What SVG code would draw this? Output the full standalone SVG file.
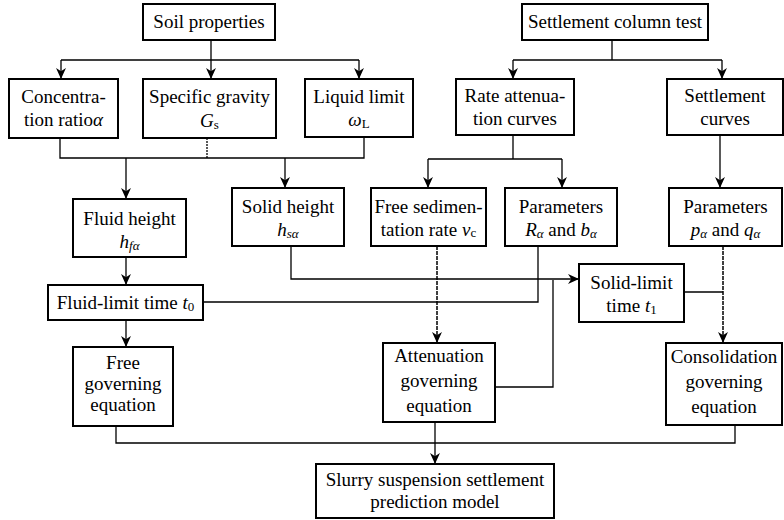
<svg xmlns="http://www.w3.org/2000/svg" width="784" height="520" viewBox="0 0 784 520">
<defs>
<marker id="arr" viewBox="0 0 10 10" refX="10" refY="5" markerWidth="11" markerHeight="11" markerUnits="userSpaceOnUse" orient="auto">
<path d="M0,0.5 L10,5 L0,9.5 L3,5 Z" fill="#000"/>
</marker>
<style>
.box{fill:#fff;stroke:#000;stroke-width:2}
.t{font-size:19px;fill:#000;text-anchor:middle}
.i{font-style:italic}
.sub{font-size:13px}
.c{fill:none;stroke:#000;stroke-width:1.3}
.d{stroke-dasharray:2 1}
.d2{stroke-dasharray:4 1;stroke-width:1.5}
.a{marker-end:url(#arr)}
</style>
</defs>
<rect width="784" height="520" fill="#fff"/>

<g id="connectors">
<path class="c" d="M211,40 V60 M61,60 H359"/>
<path class="c a" d="M61,60 V79"/>
<path class="c a" d="M211,60 V79"/>
<path class="c a" d="M359,60 V79"/>
<path class="c" d="M612,40 V60 M513,60 H722"/>
<path class="c a" d="M513,60 V79"/>
<path class="c a" d="M722,60 V79"/>
<path class="c" d="M60,138 V158 H364 V137"/>
<path class="c d" d="M207,138 V158"/>
<path class="c a" d="M126,158 V199"/>
<path class="c a" d="M285,158 V188"/>
<path class="c" d="M513,135 V159 M428,159 H562"/>
<path class="c a" d="M428,159 V188"/>
<path class="c a" d="M562,159 V188"/>
<path class="c a" d="M720,135 V188"/>
<path class="c a" d="M126,257 V285"/>
<path class="c a" d="M126,320 V347"/>
<path class="c a" d="M291,246 V279 H579"/>
<path class="c" d="M203,302 H538 V246"/>
<path class="c d2 a" d="M437,246 V343"/>
<path class="c" d="M553,280 V387 H495"/>
<path class="c" d="M684,292 H723"/>
<path class="c d2 a" d="M723,246 V343"/>
<path class="c" d="M116,426 V443 H735 V425"/>
<path class="c a" d="M435,422 V464"/>
</g>

<g font-family="'Liberation Serif', 'Times New Roman', 'DejaVu Serif', serif">
<g id="soil">
<rect class="box" x="143" y="4" width="132" height="36"/>
<text class="t" x="209" y="28">Soil properties</text>
</g>
<g id="column">
<rect class="box" x="522" y="4" width="186" height="36"/>
<text class="t" x="615" y="28">Settlement column test</text>
</g>
<g id="conc">
<rect class="box" x="9" y="79" width="109" height="59"/>
<text class="t" x="63.5" y="103">Concentra-</text>
<text class="t" x="63.5" y="126">tion ratio<tspan class="i">α</tspan></text>
</g>
<g id="gravity">
<rect class="box" x="143" y="79" width="133" height="59"/>
<text class="t" x="209.5" y="103">Specific gravity</text>
<text class="t" x="209.5" y="127"><tspan class="i">G</tspan><tspan class="sub" dy="2">s</tspan></text>
</g>
<g id="liquid">
<rect class="box" x="305" y="79" width="108" height="58"/>
<text class="t" x="359" y="103">Liquid limit</text>
<text class="t" x="359" y="126"><tspan class="i">ω</tspan><tspan class="sub" dy="2">L</tspan></text>
</g>
<g id="rate">
<rect class="box" x="456" y="79" width="118" height="56"/>
<text class="t" x="515" y="102">Rate attenua-</text>
<text class="t" x="515" y="125">tion curves</text>
</g>
<g id="scurves">
<rect class="box" x="667" y="79" width="116" height="56"/>
<text class="t" x="725" y="102">Settlement</text>
<text class="t" x="725" y="125">curves</text>
</g>
<g id="fluidh">
<rect class="box" x="73" y="199" width="113" height="58"/>
<text class="t" x="129.5" y="225">Fluid height</text>
<text class="t" x="129.5" y="248"><tspan class="i">h</tspan><tspan class="sub i" dy="2">fα</tspan></text>
</g>
<g id="solidh">
<rect class="box" x="232" y="188" width="112" height="58"/>
<text class="t" x="288" y="213">Solid height</text>
<text class="t" x="288" y="236"><tspan class="i">h</tspan><tspan class="sub i" dy="2">sα</tspan></text>
</g>
<g id="freesed">
<rect class="box" x="371" y="188" width="115" height="58"/>
<text class="t" x="428.5" y="213">Free sedimen-</text>
<text class="t" x="428.5" y="236">tation rate <tspan class="i">v</tspan><tspan class="sub" dy="1">c</tspan></text>
</g>
<g id="paramR">
<rect class="box" x="505" y="188" width="112" height="58"/>
<text class="t" x="561" y="213">Parameters</text>
<text class="t" x="561" y="236"><tspan class="i">R</tspan><tspan class="sub i" dy="2">α</tspan><tspan dy="-2"> and </tspan><tspan class="i">b</tspan><tspan class="sub i" dy="2">α</tspan></text>
</g>
<g id="paramP">
<rect class="box" x="669" y="188" width="113" height="58"/>
<text class="t" x="725.5" y="213">Parameters</text>
<text class="t" x="725.5" y="236"><tspan class="i">p</tspan><tspan class="sub i" dy="2">α</tspan><tspan dy="-2"> and </tspan><tspan class="i">q</tspan><tspan class="sub i" dy="2">α</tspan></text>
</g>
<g id="fluidt">
<rect class="box" x="48" y="285" width="155" height="35"/>
<text class="t" x="125.5" y="309">Fluid-limit time <tspan class="i">t</tspan><tspan class="sub" dy="2">0</tspan></text>
</g>
<g id="solidt">
<rect class="box" x="579" y="264" width="105" height="58"/>
<text class="t" x="631.5" y="289">Solid-limit</text>
<text class="t" x="631.5" y="312">time <tspan class="i">t</tspan><tspan class="sub" dy="2">1</tspan></text>
</g>
<g id="freegov">
<rect class="box" x="73" y="347" width="100" height="79"/>
<text class="t" x="123" y="369">Free</text>
<text class="t" x="123" y="390">governing</text>
<text class="t" x="123" y="411">equation</text>
</g>
<g id="attgov">
<rect class="box" x="383" y="343" width="112" height="79"/>
<text class="t" x="439" y="362">Attenuation</text>
<text class="t" x="439" y="387">governing</text>
<text class="t" x="439" y="412">equation</text>
</g>
<g id="congov">
<rect class="box" x="666" y="343" width="116" height="82"/>
<text class="t" x="724" y="363">Consolidation</text>
<text class="t" x="724" y="388">governing</text>
<text class="t" x="724" y="413">equation</text>
</g>
<g id="slurry">
<rect class="box" x="316" y="464" width="238" height="54"/>
<text class="t" x="435" y="486">Slurry suspension settlement</text>
<text class="t" x="435" y="508">prediction model</text>
</g>
</g>
</svg>
